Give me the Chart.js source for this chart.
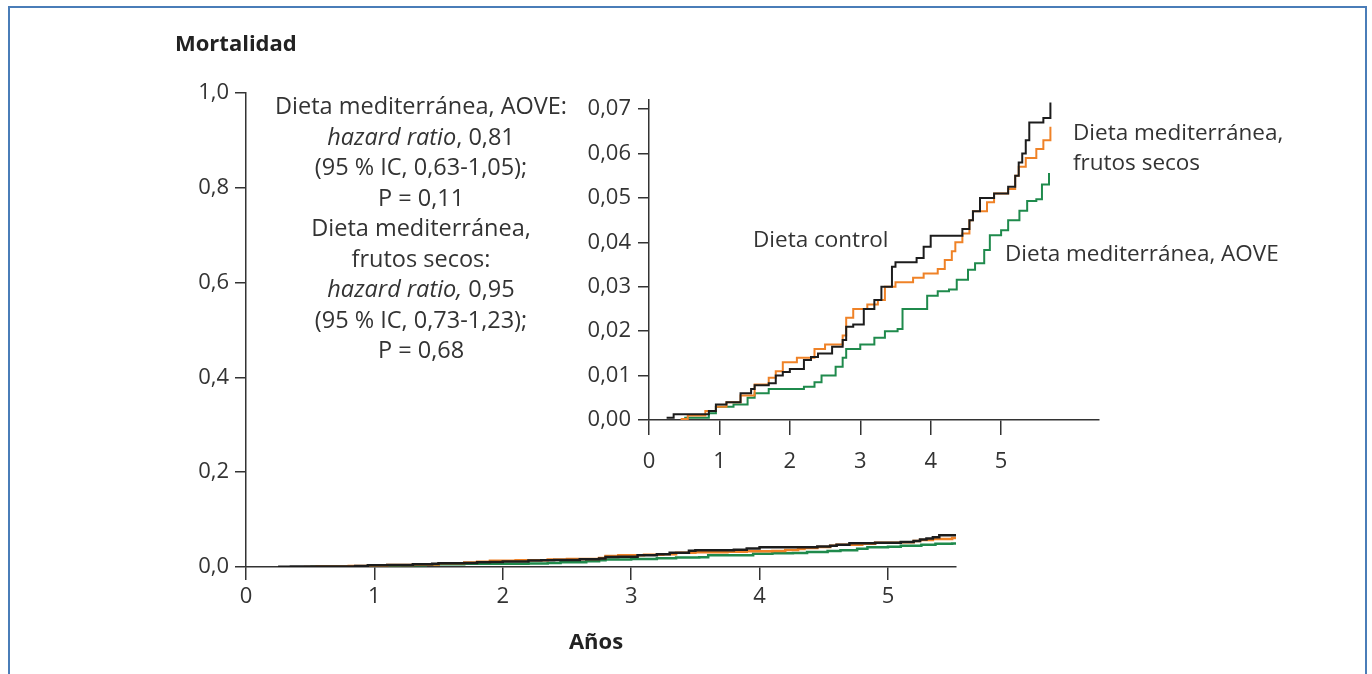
<!DOCTYPE html>
<html><head><meta charset="utf-8">
<script src="https://cdn.jsdelivr.net/npm/chart.js@4"></script>
<style>
html,body{margin:0;padding:0;background:#fff;}
body{width:1372px;height:674px;position:relative;overflow:hidden;font-family:"Open Sans",sans-serif;color:#333;}
#frame{position:absolute;left:8px;top:6px;width:1359px;height:720px;border:2px solid #4a7db8;box-sizing:border-box;}
canvas{position:absolute;}
.t{position:absolute;white-space:nowrap;transform:translateY(-50%);line-height:1;}
#note{position:absolute;left:171px;top:90px;width:500px;text-align:center;font-size:23.5px;line-height:30.5px;color:#333;}
</style></head>
<body>
<div id="frame"></div>
<canvas id="main" width="1372" height="674" style="left:0;top:0"></canvas>
<canvas id="inset" width="580" height="420" style="left:560px;top:80px"></canvas>
<div class="t" style="left:175px;top:42px;font-weight:bold;font-size:22px;color:#222">Mortalidad</div>
<div class="t" style="left:596px;top:640px;font-weight:bold;font-size:22px;color:#222;transform:translate(-50%,-50%)">Años</div>
<div id="note">Dieta mediterránea, AOVE:<br><i>hazard ratio</i>, 0,81<br>(95 % IC, 0,63-1,05);<br>P = 0,11<br>Dieta mediterránea,<br>frutos secos:<br><i>hazard ratio,</i> 0,95<br>(95 % IC, 0,73-1,23);<br>P = 0,68</div>
<div class="t" style="left:753px;top:239px;font-size:22.5px">Dieta control</div>
<div class="t" style="left:1073px;top:132px;font-size:22.5px">Dieta mediterránea,</div>
<div class="t" style="left:1073px;top:162px;font-size:22.5px">frutos secos</div>
<div class="t" style="left:1005px;top:253px;font-size:22.5px">Dieta mediterránea, AOVE</div>
<script>
// ---- data ----
const controlX = [0.25,0.35,0.85,0.95,1.1,1.3,1.45,1.5,1.7,1.8,1.9,2.0,2.2,2.3,2.4,2.6,2.75,2.8,2.9,3.05,3.2,3.3,3.45,3.5,3.8,3.9,4.0,4.45,4.55,4.6,4.7,4.9,5.1,5.2,5.25,5.3,5.35,5.4,5.6,5.7];
const controlY = [0.0005,0.0013,0.002,0.0035,0.004,0.006,0.007,0.0078,0.0083,0.010,0.0108,0.0115,0.0135,0.0142,0.015,0.0165,0.018,0.021,0.0215,0.025,0.027,0.030,0.0345,0.0355,0.0365,0.039,0.0415,0.043,0.045,0.047,0.050,0.051,0.0525,0.055,0.058,0.06,0.063,0.067,0.068,0.0715];
const nutsX = [0.45,0.55,0.8,0.95,1.1,1.3,1.5,1.7,1.8,1.9,2.1,2.35,2.5,2.75,2.8,2.9,3.1,3.25,3.35,3.5,3.75,3.9,4.1,4.2,4.3,4.35,4.45,4.55,4.6,4.8,4.9,5.1,5.2,5.25,5.35,5.5,5.6,5.7];
const nutsY = [0.0002,0.001,0.002,0.003,0.004,0.0055,0.008,0.0095,0.011,0.013,0.014,0.016,0.017,0.019,0.023,0.025,0.026,0.027,0.030,0.031,0.032,0.033,0.034,0.036,0.038,0.040,0.042,0.045,0.047,0.049,0.051,0.052,0.055,0.057,0.059,0.061,0.063,0.066];
const oilX = [0.5,0.85,0.95,1.2,1.4,1.5,1.7,2.2,2.35,2.45,2.65,2.75,2.8,3.0,3.2,3.35,3.53,3.6,3.95,4.1,4.26,4.37,4.53,4.63,4.76,4.84,5.0,5.1,5.26,5.37,5.5,5.58,5.68];
const oilY = [0.0005,0.0015,0.003,0.0035,0.005,0.006,0.007,0.0075,0.0085,0.010,0.012,0.014,0.016,0.017,0.0185,0.020,0.0205,0.025,0.028,0.029,0.0294,0.0316,0.0338,0.0353,0.0383,0.0416,0.0427,0.045,0.0471,0.0493,0.0497,0.053,0.0556];

const mainXTicks = [0,1,2,3,4,5];
const mainXLabels = ["0","1","2","3","4","5"];
const mainYTicks = [0,0.2,0.4,0.6,0.8,1.0];
const mainYLabels = ["0,0","0,2","0,4","0,6","0,8","1,0"];
const insetXTicks = [0,1,2,3,4,5];
const insetXLabels = ["0","1","2","3","4","5"];
const insetYTicks = [0,0.01,0.02,0.03,0.04,0.05,0.06,0.07];
const insetYLabels = ["0,00","0,01","0,02","0,03","0,04","0,05","0,06","0,07"];

// ---- build ----
const pts = (xs, ys) => xs.map((x, i) => ({x: x, y: ys[i]}));
function datasets(w) {
  return [
    {data: pts(controlX, controlY), borderColor: '#1c1c1c', borderWidth: w, stepped: true, pointRadius: 0, order: 0},
    {data: pts(nutsX, nutsY), borderColor: '#ef8227', borderWidth: w, stepped: true, pointRadius: 0, order: 1},
    {data: pts(oilX, oilY), borderColor: '#1f8a4c', borderWidth: w, stepped: true, pointRadius: 0, order: 2}
  ];
}
Chart.defaults.font.family = '"Open Sans", sans-serif';
Chart.defaults.color = '#333';
const axisCommon = (tickLen, pad, size) => ({
  grid: {display: true, drawOnChartArea: false, drawTicks: true, tickLength: tickLen, color: '#333', lineWidth: 1.5},
  border: {display: true, color: '#333', width: 1.5},
  ticks: {padding: pad, font: {size: size}, color: '#333', autoSkip: false, maxRotation: 0}
});
function mkAxis(cfg, tickVals, labels, extra) {
  const a = axisCommon(cfg.len, cfg.pad, cfg.size);
  a.ticks.callback = (v, i) => labels[i];
  a.afterBuildTicks = s => { s.ticks = tickVals.map(v => ({value: v})); };
  return Object.assign(a, extra);
}
const common = {responsive: false, animation: false, events: [],
  plugins: {legend: {display: false}, tooltip: {enabled: false}}};

new Chart(document.getElementById('main'), {
  type: 'line',
  data: {datasets: datasets(2.5)},
  options: Object.assign({}, common, {
    layout: {padding: {left: 0, right: 416, top: 93, bottom: 0}},
    scales: {
      x: mkAxis({len: 13, pad: 4, size: 22}, mainXTicks, mainXLabels, {type: 'linear', min: 0, max: 5.53, afterFit: s => { s.height = 107; }}),
      y: mkAxis({len: 11, pad: 6, size: 22}, mainYTicks, mainYLabels, {type: 'linear', min: 0, max: 1, afterFit: s => { s.width = 246; }})
    }
  })
});

new Chart(document.getElementById('inset'), {
  type: 'line',
  data: {datasets: datasets(2)},
  options: Object.assign({}, common, {
    layout: {padding: {left: 0, right: 41, top: 15, bottom: 0}},
    scales: {
      x: mkAxis({len: 15, pad: 14, size: 22}, insetXTicks, insetXLabels, {type: 'linear', min: 0, max: 6.39, afterFit: s => { s.height = 80; }}),
      y: mkAxis({len: 11, pad: 7, size: 22}, insetYTicks, insetYLabels, {type: 'linear', min: 0, max: 0.072, afterFit: s => { s.width = 89; }})
    }
  })
});
</script>
</body></html>
